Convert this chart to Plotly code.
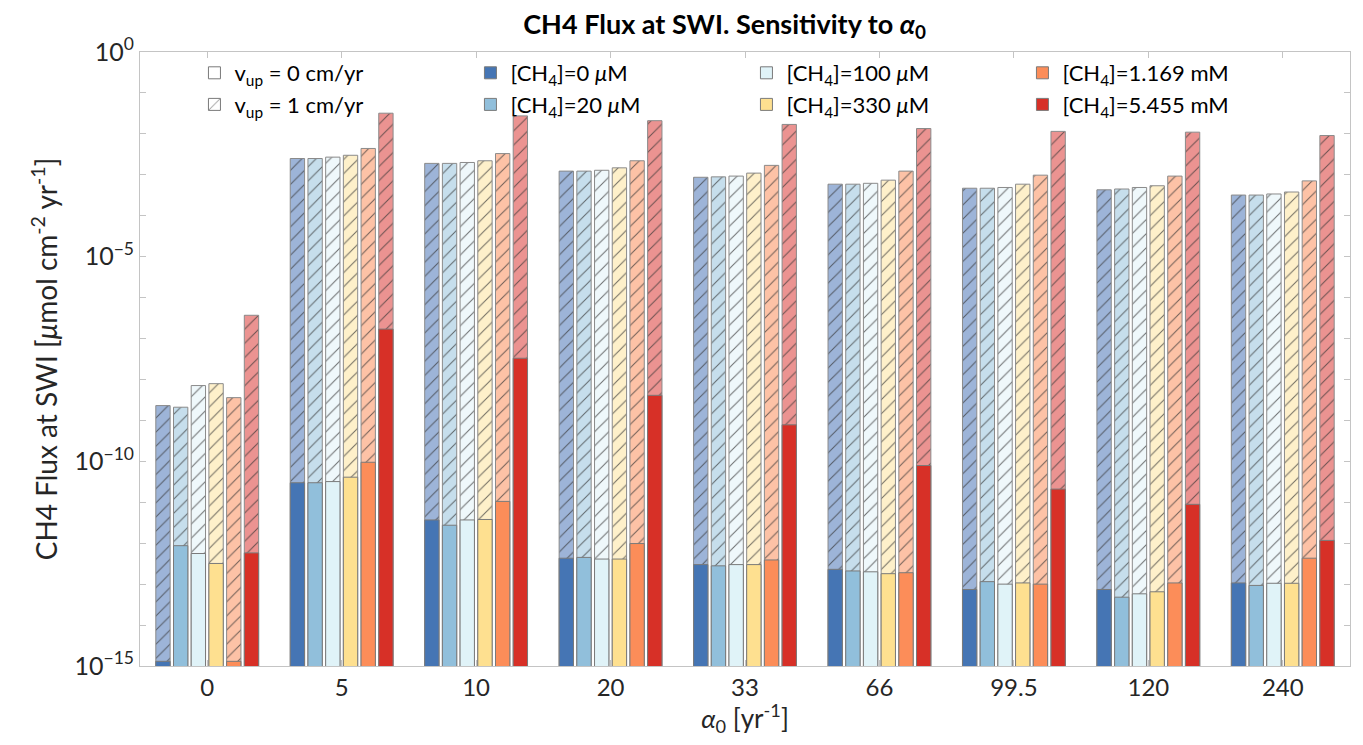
import plotly.graph_objects as go

alpha_labels = ["0", "5", "10", "20", "33", "66", "99.5", "120", "240"]

conc_names = ["[CH<sub>4</sub>]=0 <i>μ</i>M", "[CH<sub>4</sub>]=20 <i>μ</i>M",
              "[CH<sub>4</sub>]=100 <i>μ</i>M", "[CH<sub>4</sub>]=330 <i>μ</i>M",
              "[CH<sub>4</sub>]=1.169 mM", "[CH<sub>4</sub>]=5.455 mM"]

# Flux with v_up = 0 cm/yr (solid bars)
flux_v0_c0 = [1.3e-15, 3.0e-11, 3.7e-12, 4.3e-13, 3.0e-13, 2.3e-13, 7.4e-14, 7.4e-14, 1.07e-13]
flux_v0_c20 = [8.7e-13, 3.0e-11, 2.75e-12, 4.5e-13, 2.8e-13, 2.1e-13, 1.15e-13, 4.8e-14, 9.3e-14]
flux_v0_c100 = [5.6e-13, 3.2e-11, 3.7e-12, 4.1e-13, 3.0e-13, 2.0e-13, 1.0e-13, 5.8e-14, 1.05e-13]
flux_v0_c330 = [3.2e-13, 4.1e-11, 3.8e-12, 4.1e-13, 3.0e-13, 1.8e-13, 1.07e-13, 6.5e-14, 1.05e-13]
flux_v0_c1169 = [1.3e-15, 9.5e-11, 1.05e-11, 9.8e-13, 3.9e-13, 1.9e-13, 1.0e-13, 1.07e-13, 4.3e-13]
flux_v0_c5455 = [5.8e-13, 1.7e-7, 3.3e-8, 4.1e-9, 7.8e-10, 7.9e-11, 2.1e-11, 8.9e-12, 1.17e-12]

# Flux with v_up = 1 cm/yr (hatched bars)
flux_v1_c0 = [2.3e-9, 2.5e-3, 1.9e-3, 1.23e-3, 8.7e-4, 5.9e-4, 4.7e-4, 4.3e-4, 3.2e-4]
flux_v1_c20 = [2.1e-9, 2.5e-3, 1.9e-3, 1.23e-3, 8.9e-4, 5.9e-4, 4.7e-4, 4.5e-4, 3.2e-4]
flux_v1_c100 = [7.1e-9, 2.7e-3, 2.0e-3, 1.29e-3, 9.3e-4, 6.2e-4, 4.9e-4, 4.9e-4, 3.4e-4]
flux_v1_c330 = [7.9e-9, 3.0e-3, 2.2e-3, 1.48e-3, 1.1e-3, 7.4e-4, 5.9e-4, 5.4e-4, 3.8e-4]
flux_v1_c1169 = [3.6e-9, 4.4e-3, 3.3e-3, 2.2e-3, 1.7e-3, 1.23e-3, 9.8e-4, 9.3e-4, 7.1e-4]
flux_v1_c5455 = [3.7e-7, 3.2e-2, 2.75e-2, 2.1e-2, 1.7e-2, 1.35e-2, 1.15e-2, 1.1e-2, 9.1e-3]

flux_v0 = [flux_v0_c0, flux_v0_c20, flux_v0_c100, flux_v0_c330, flux_v0_c1169, flux_v0_c5455]
flux_v1 = [flux_v1_c0, flux_v1_c20, flux_v1_c100, flux_v1_c330, flux_v1_c1169, flux_v1_c5455]

solid_colors = ["#4575B4", "#91BFDB", "#E0F3F8", "#FEE090", "#FC8D59", "#D73027"]
light_colors = ["#9DB4D8", "#C6DEEC", "#EFF8FB", "#FEF0CA", "#FDC2A6", "#EB9391"]
legend_ranks = [2, 6, 3, 7, 4, 8]

FONT = "Lato, 'Open Sans', sans-serif"
pattern = dict(shape="/", fillmode="overlay", fgcolor="#333333", fgopacity=0.7,
               size=10, solidity=0.1)

fig = go.Figure()

for i in range(6):
    fig.add_trace(go.Bar(
        x=alpha_labels, y=flux_v1[i], offsetgroup=f"g{i}", showlegend=False,
        marker=dict(color=light_colors[i], line=dict(color="#8a8a8a", width=1),
                    pattern=dict(pattern, bgcolor=light_colors[i])),
        hoverinfo="skip"))
for i in range(6):
    fig.add_trace(go.Bar(
        x=alpha_labels, y=flux_v0[i], offsetgroup=f"g{i}", name=conc_names[i],
        legendrank=legend_ranks[i],
        marker=dict(color=solid_colors[i], line=dict(color="#7a7a7a", width=1))))

# legend-only entries for the two upwelling velocities
fig.add_trace(go.Bar(x=[alpha_labels[0]], y=[None], offsetgroup="g0",
                     name="v<sub>up</sub> = 0 cm/yr", legendrank=1,
                     marker=dict(color="white", line=dict(color="#7a7a7a", width=1))))
fig.add_trace(go.Bar(x=[alpha_labels[0]], y=[None], offsetgroup="g0",
                     name="v<sub>up</sub> = 1 cm/yr", legendrank=5,
                     marker=dict(color="white", line=dict(color="#7a7a7a", width=1),
                                 pattern=dict(pattern, bgcolor="white"))))

ytick_vals = [10.0 ** (-k) for k in range(16)]
ytick_text = ["10<sup>0</sup>" if k == 0 else (f"10<sup>−{k}</sup>" if k % 5 == 0 else "")
              for k in range(16)]

# page body has an 8px margin, so the figure is sized/offset to land where the reference plot is
fig.update_layout(
    width=1347, height=729,
    paper_bgcolor="white", plot_bgcolor="white",
    margin=dict(l=132, r=5, t=44, b=71),
    barmode="group", bargap=0.21, bargroupgap=0.19,
    font=dict(family=FONT, color="#262626", size=22),
    title=dict(text="<b>CH4 Flux at SWI. Sensitivity to </b><b><i>α</i><sub>0</sub></b>",
               x=0.532, xanchor="center", y=0.978, yanchor="middle",
               font=dict(size=27, color="#000000", family=FONT)),
    legend=dict(orientation="h", x=0.045, y=1.0, xanchor="left", yanchor="top",
                entrywidth=231, entrywidthmode="pixels", bgcolor="rgba(0,0,0,0)",
                font=dict(size=22, color="#000000", family=FONT), tracegroupgap=0,
                itemclick=False),
    xaxis=dict(type="category", range=[-0.5, 8.5], showline=True, linecolor="#c4c4c4",
               linewidth=1, mirror="ticks", ticks="inside", ticklen=6, tickcolor="#c4c4c4",
               tickfont=dict(size=24, color="#262626"),
               title=dict(text="<i>α</i><sub>0</sub> [yr<sup>-1</sup>]",
                          font=dict(size=26, color="#262626"), standoff=3)),
    yaxis=dict(type="log", range=[-15, 0], showline=True, linecolor="#c4c4c4", linewidth=1,
               mirror="ticks", ticks="inside", ticklen=6, tickcolor="#c4c4c4",
               tickvals=ytick_vals, ticktext=ytick_text, showgrid=False, zeroline=False,
               tickfont=dict(size=25, color="#262626"),
               title=dict(text="CH4 Flux at SWI [<i>μ</i>mol cm<sup>-2</sup> yr<sup>-1</sup>]",
                          font=dict(size=28, color="#262626"), standoff=8)),
)

fig.write_html("out.html")
